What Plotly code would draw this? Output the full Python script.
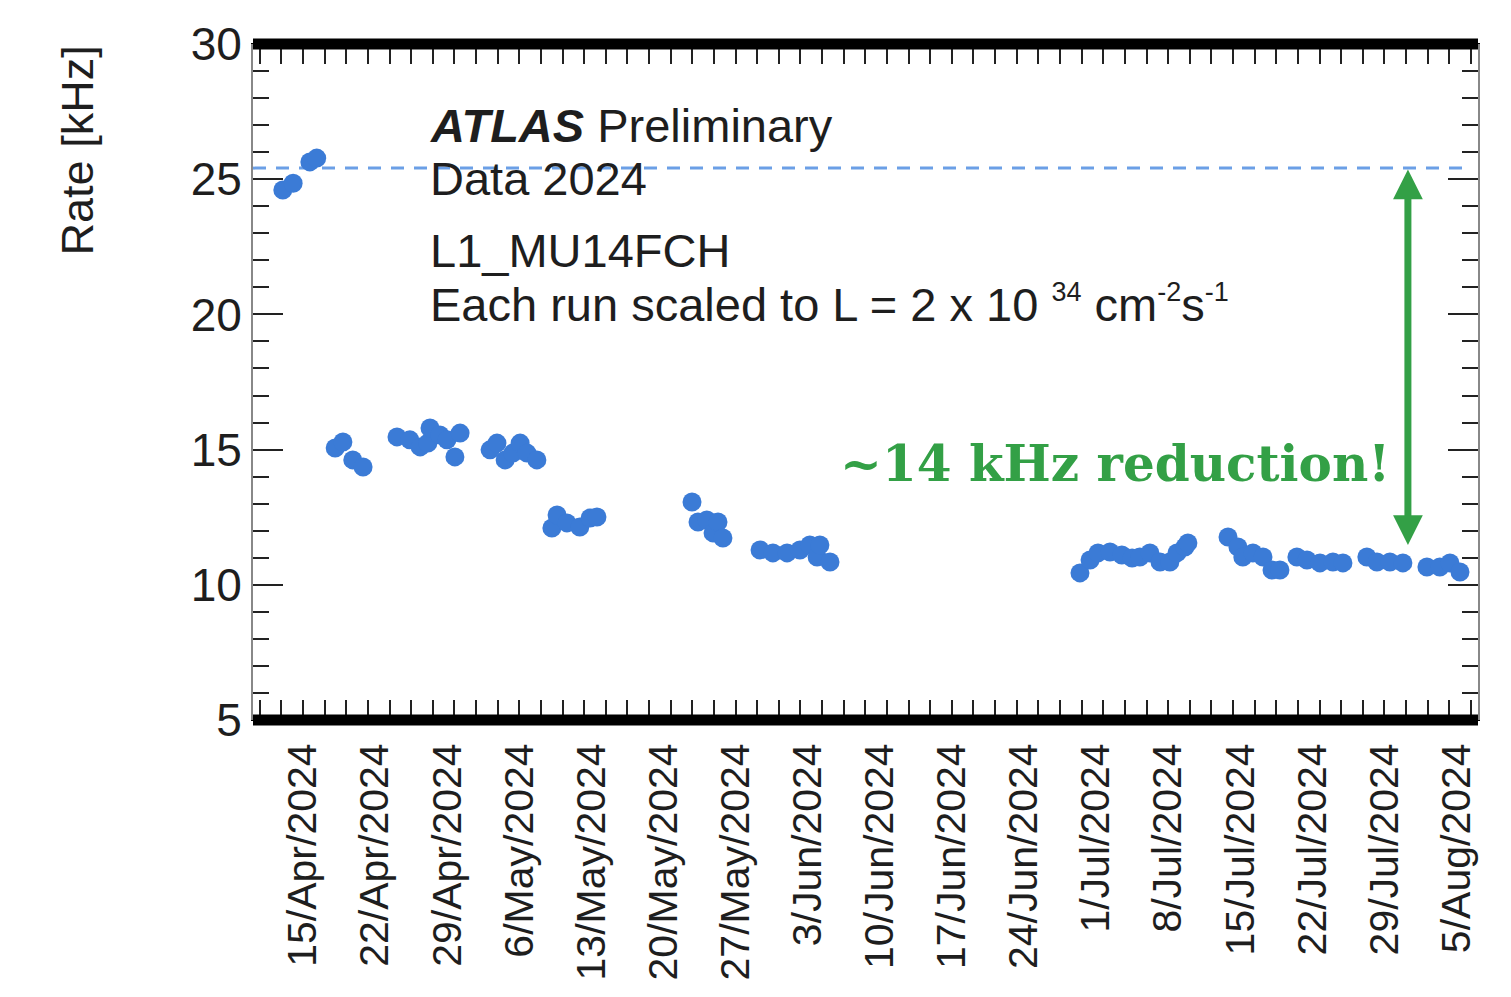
import plotly.graph_objects as go

# ---------------- data ----------------
run_dates = [
    # mid April (before change)
    "2024-04-13 01:00", "2024-04-14 01:00", "2024-04-15 16:00", "2024-04-16 08:00",
    # 18-21 April
    "2024-04-18 03:00", "2024-04-18 21:00", "2024-04-19 20:00", "2024-04-20 20:00",
    # 24-30 April
    "2024-04-24 03:00", "2024-04-25 09:00", "2024-04-26 09:00", "2024-04-27 03:00",
    "2024-04-27 08:00", "2024-04-28 07:00", "2024-04-28 23:30", "2024-04-29 18:00",
    "2024-04-30 06:00",
    # 3-7 May
    "2024-05-03 04:00", "2024-05-03 20:00", "2024-05-04 15:00", "2024-05-05 09:00",
    "2024-05-06 02:00", "2024-05-06 18:00", "2024-05-07 17:00",
    # 9-13 May
    "2024-05-09 04:00", "2024-05-09 16:00", "2024-05-10 15:00", "2024-05-11 21:00",
    "2024-05-12 21:00", "2024-05-13 13:00",
    # 22-25 May
    "2024-05-22 18:30", "2024-05-23 08:30", "2024-05-24 05:00", "2024-05-24 19:30",
    "2024-05-25 07:00", "2024-05-25 18:30",
    # 29 May - 5 Jun
    "2024-05-29 09:00", "2024-05-30 15:00", "2024-06-01 00:00", "2024-06-02 06:00",
    "2024-06-03 05:00", "2024-06-03 22:00", "2024-06-04 04:30", "2024-06-05 04:00",
    # 29 Jun - 9 Jul
    "2024-06-29 10:30", "2024-06-30 10:00", "2024-07-01 04:30", "2024-07-02 08:30",
    "2024-07-03 12:00", "2024-07-04 12:00", "2024-07-05 06:00", "2024-07-06 05:30",
    "2024-07-07 05:00", "2024-07-08 04:00", "2024-07-08 20:30", "2024-07-09 15:00",
    "2024-07-09 22:00",
    # 13 Jul - 5 Aug
    "2024-07-13 19:30", "2024-07-14 18:40", "2024-07-15 06:00", "2024-07-16 05:30",
    "2024-07-17 05:00", "2024-07-18 02:00", "2024-07-18 20:30", "2024-07-20 12:00",
    "2024-07-21 11:30", "2024-07-22 17:45", "2024-07-24 00:00", "2024-07-24 23:15",
    "2024-07-27 07:00", "2024-07-28 06:30", "2024-07-29 12:45", "2024-07-30 19:00",
    "2024-08-02 03:00", "2024-08-03 09:00", "2024-08-04 08:40", "2024-08-05 08:00",
]

rate_khz = [
    24.60, 24.85, 25.64, 25.78,
    15.06, 15.28, 14.62, 14.36,
    15.47, 15.36, 15.10, 15.24, 15.80, 15.54, 15.36, 14.73, 15.61,
    14.99, 15.24, 14.62, 14.87, 15.24, 14.87, 14.62,
    12.10, 12.58, 12.29, 12.14, 12.47, 12.51,
    13.06, 12.32, 12.40, 11.92, 12.32, 11.73,
    11.29, 11.18, 11.18, 11.29, 11.47, 11.03, 11.47, 10.84,
    10.44, 10.92, 11.18, 11.21, 11.10, 10.99, 11.03, 11.18, 10.84, 10.84, 11.18, 11.40, 11.55,
    11.77, 11.40, 11.03, 11.18, 11.03, 10.55, 10.55, 11.03, 10.92, 10.81, 10.84, 10.81,
    11.03, 10.84, 10.84, 10.81, 10.66, 10.66, 10.81, 10.47,
]

tick_dates = [
    "2024-04-15", "2024-04-22", "2024-04-29", "2024-05-06", "2024-05-13",
    "2024-05-20", "2024-05-27", "2024-06-03", "2024-06-10", "2024-06-17",
    "2024-06-24", "2024-07-01", "2024-07-08", "2024-07-15", "2024-07-22",
    "2024-07-29", "2024-08-05",
]

x_range = ["2024-04-10 03:30", "2024-08-07 02:00"]
y_range = [5, 30]

reference_rate = 25.41     # dashed line level (early-April rate)
reduced_rate = 11.47       # arrow bottom
arrow_date = "2024-07-31 06:40"

# ---------------- styles ----------------
BLUE = "#3b7bd6"
GREEN = "#33a046"
TXT = "#1e1e1e"
SANS = "Liberation Sans, Arial, sans-serif"
DAY_MS = 86400000

fig = go.Figure()

fig.add_trace(go.Scatter(
    x=run_dates, y=rate_khz, mode="markers",
    marker=dict(color=BLUE, size=19, line=dict(width=0)),
    showlegend=False, hoverinfo="x+y",
))

# dashed reference line
fig.add_shape(type="line", xref="paper", yref="y", x0=0, x1=0.987,
              y0=reference_rate, y1=reference_rate,
              line=dict(color="#6b9fe6", width=3, dash="13px,10px"), layer="below")

# thick frame lines top / bottom
for yy in (0, 1):
    fig.add_shape(type="line", xref="paper", yref="paper", x0=0, x1=1, y0=yy, y1=yy,
                  line=dict(color="black", width=11), layer="above")

# double-headed green arrow
fig.add_annotation(
    x=arrow_date, y=reduced_rate, ax=arrow_date, ay=reference_rate,
    xref="x", yref="y", axref="x", ayref="y", text="", showarrow=True,
    arrowside="end+start", arrowhead=2, startarrowhead=2,
    arrowsize=0.85, startarrowsize=0.85, arrowwidth=7, arrowcolor=GREEN, standoff=0,
    startstandoff=0,
)

# text annotations
fig.add_annotation(xref="paper", yref="paper", x=0.1429, y=0.8796, xanchor="left", yanchor="middle",
                   text="<b><i>ATLAS</i></b> Preliminary", showarrow=False,
                   font=dict(family=SANS, size=47, color=TXT))
fig.add_annotation(xref="paper", yref="paper", x=0.1429, y=0.8009, xanchor="left", yanchor="middle",
                   text="Data 2024", showarrow=False, font=dict(family=SANS, size=47, color=TXT))
fig.add_annotation(xref="paper", yref="paper", x=0.1429, y=0.6939, xanchor="left", yanchor="middle",
                   text="L1_MU14FCH", showarrow=False, font=dict(family=SANS, size=47, color=TXT))
fig.add_annotation(xref="paper", yref="paper", x=0.1429, y=0.6152, xanchor="left", yanchor="middle",
                   text="Each run scaled to L = 2 x 10 <sup><span style='font-size:27px'>34</span></sup> "
                        "cm<sup><span style='font-size:27px'>-2</span></sup>s<sup><span style='font-size:27px'>-1</span></sup>",
                   showarrow=False, font=dict(family=SANS, size=47, color=TXT))
fig.add_annotation(xref="paper", yref="paper", x=0.4776, y=0.3789, xanchor="left", yanchor="middle",
                   text="<b>~14 kHz reduction!</b>", showarrow=False,
                   font=dict(family="DejaVu Serif, serif", size=50, color=GREEN))

# y-axis title
fig.add_annotation(xref="paper", yref="paper", x=-0.1429, y=0.8425, xanchor="center", yanchor="middle",
                   text="Rate [kHz]", textangle=-90, showarrow=False,
                   font=dict(family=SANS, size=45, color=TXT))

fig.update_xaxes(
    type="date", range=x_range, tickvals=tick_dates, tickformat="%-d/%b/%Y",
    tickangle=-90, tickfont=dict(family=SANS, size=41, color=TXT),
    ticks="", ticklabelstandoff=6, automargin=False,
    minor=dict(ticks="inside", dtick=2.1 * DAY_MS, tick0="2024-04-15", ticklen=20,
               tickwidth=2, tickcolor="#222", showgrid=False),
    showline=True, linecolor="black", linewidth=1, mirror="allticks",
    showgrid=False, zeroline=False,
)
fig.update_yaxes(
    range=y_range, tickvals=[5, 10, 15, 20, 25, 30], automargin=False,
    tickfont=dict(family=SANS, size=46, color=TXT),
    ticks="inside", ticklen=30, tickwidth=2, tickcolor="#222",
    minor=dict(ticks="inside", dtick=1, ticklen=16, tickwidth=2, tickcolor="#222", showgrid=False),
    showline=True, linecolor="#888", linewidth=2, mirror="allticks",
    showgrid=False, zeroline=False,
)

fig.update_layout(
    width=1511, height=997,
    margin=dict(l=253, r=33, t=44, b=277),
    paper_bgcolor="white", plot_bgcolor="white",
    showlegend=False,
)

fig.write_html("out.html")
